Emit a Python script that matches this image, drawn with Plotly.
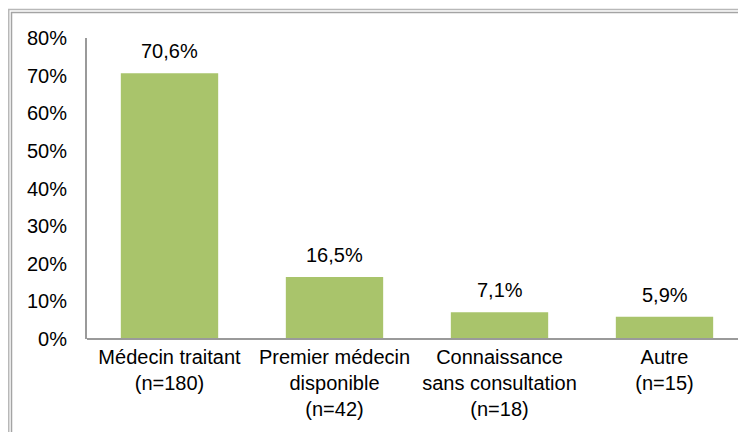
import plotly.graph_objects as go

categories = [
    "Médecin traitant<br>(n=180)",
    "Premier médecin<br>disponible<br>(n=42)",
    "Connaissance<br>sans consultation<br>(n=18)",
    "Autre<br>(n=15)",
]
values = [0.706, 0.165, 0.071, 0.059]
labels = ["70,6%", "16,5%", "7,1%", "5,9%"]
tick_vals = [0, 0.1, 0.2, 0.3, 0.4, 0.5, 0.6, 0.7, 0.8]

# page body has an 8px margin, so the figure is laid out 8px up/left
W, H = 746, 432
L, T = 79, 30
R = 7
B = H - 331
pw, ph = W - L - R, H - T - B


def px_x(p):
    return (p - L) / pw


def px_y(p):
    return (H - B - p) / ph


font = dict(family="Liberation Sans, Arial, sans-serif", size=20, color="#000000")

fig = go.Figure()
fig.add_trace(go.Bar(
    x=categories,
    y=values,
    marker=dict(color="#A9C46B", line=dict(width=0)),
    hoverinfo="skip",
))

for cat, v, lab in zip(categories, values, labels):
    fig.add_annotation(x=cat, y=v, text=lab, showarrow=False,
                       yanchor="bottom", yshift=9, font=font)

# double grey frame around the chart area
for xc, yc, col in [(0.75, 1.5, "#b8b8b8"), (3.5, 4.5, "#a4a4a4")]:
    fig.add_shape(type="rect", xref="paper", yref="paper",
                  x0=px_x(xc), x1=2, y0=-2, y1=px_y(yc),
                  line=dict(color=col, width=1.5), fillcolor="rgba(0,0,0,0)")

# x axis line runs on to the right edge
fig.add_shape(type="line", xref="paper", yref="paper",
              x0=0, x1=1.2, y0=0, y1=0,
              line=dict(color="#9a9a9a", width=2))

fig.update_layout(
    width=W, height=H,
    margin=dict(l=L, r=R, t=T, b=B, autoexpand=False),
    paper_bgcolor="white", plot_bgcolor="white",
    separators=", ",
    bargap=0.41,
    showlegend=False,
    font=font,
)
fig.update_xaxes(
    showline=False,
    showgrid=False, ticks="", tickfont=font,
    tickangle=0, automargin=False, ticklabelstandoff=4,
)
fig.update_yaxes(
    range=[0, 0.8], tickvals=tick_vals, tickformat=".0%",
    showline=True, linecolor="#9a9a9a", linewidth=2,
    showgrid=False, zeroline=False, ticks="", tickfont=font,
    ticklabelstandoff=14, automargin=False,
)

fig.write_html("out.html")
